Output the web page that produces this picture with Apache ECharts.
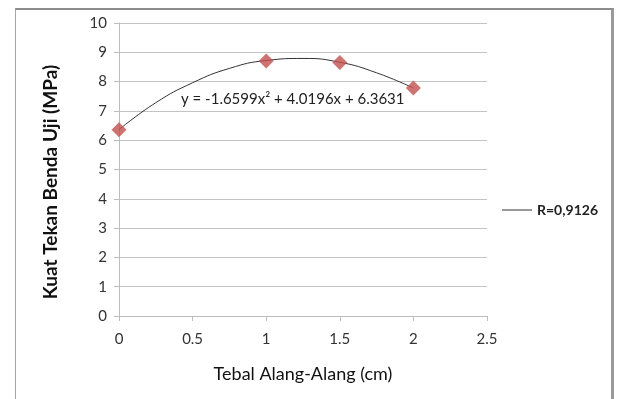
<!DOCTYPE html>
<html>
<head>
<meta charset="utf-8">
<script src="https://cdn.jsdelivr.net/npm/echarts@6/dist/echarts.min.js"></script>
<style>
  html, body { margin: 0; padding: 0; background: #fff; }
  #frame { position: absolute; left: 15px; top: 8px; width: 595px; height: 400px;
           border-top: 2px solid #8c8c8c; border-left: 1px solid #a6a6a6; border-right: 3px solid #9a9a9a; }
  #chart { position: absolute; left: 0; top: 0; width: 620px; height: 399px; }
</style>
</head>
<body>
<div id="frame"></div>
<div id="chart"></div>
<script>
// titik data uji
var tebal = [0, 1, 1.5, 2]
var kuatTekan = [6.36, 8.7, 8.65, 7.78]

// garis trend
var trendX = [0, 0.25, 0.5, 0.75, 1, 1.25, 1.5, 1.75, 2]
var trendY = [6.36, 7.28, 7.96, 8.45, 8.72, 8.79, 8.66, 8.3, 7.78]

var persamaan = 'y = -1.6599x² + 4.0196x + 6.3631'
var namaR = 'R=0,9126'

var pts = [], trend = []
for (let i in tebal) pts.push([tebal[i], kuatTekan[i]])
for (let i in trendX) trend.push([trendX[i], trendY[i]])

var chart = echarts.init(document.getElementById('chart'))
chart.setOption({
  animation: false,
  textStyle: { fontFamily: 'Lato' },
  grid: { left: 119, right: 133, top: 23, bottom: 83 },
  legend: {
    left: 497, top: 198,
    data: [{ name: namaR }],
    icon: 'rect', itemWidth: 30, itemHeight: 1, itemGap: 6,
    textStyle: { fontWeight: 'bold', fontSize: 14, color: '#222' }
  },
  xAxis: {
    type: 'value', min: 0, max: 2.5, interval: 0.5,
    name: 'Tebal Alang-Alang (cm)', nameLocation: 'middle', nameGap: 49,
    nameTextStyle: { fontSize: 18, color: '#111' },
    axisLine: { lineStyle: { color: '#bdbdbd' } },
    axisTick: { show: true, length: 5, lineStyle: { color: '#bdbdbd' } },
    axisLabel: { fontSize: 15, color: '#333', margin: 16 },
    splitLine: { show: false }
  },
  yAxis: {
    type: 'value', min: 0, max: 10, interval: 1,
    name: 'Kuat Tekan Benda Uji (MPa)', nameLocation: 'middle', nameGap: 59,
    nameTextStyle: { fontSize: 19, fontWeight: 'bold', color: '#111', padding: [0, 25, 0, 0] },
    axisLine: { show: true, lineStyle: { color: '#bdbdbd' } },
    axisTick: { show: true, length: 5, lineStyle: { color: '#bdbdbd' } },
    axisLabel: { fontSize: 15, color: '#333', margin: 12 },
    splitLine: { lineStyle: { color: '#c4c4c4' } }
  },
  graphic: [{
    type: 'text', left: 181, top: 92,
    style: { text: persamaan, fontSize: 15, fontFamily: 'Lato', fill: '#222' }
  }],
  series: [{
    name: namaR, type: 'line', data: trend, smooth: true, showSymbol: false,
    lineStyle: { color: '#333', width: 1 }, itemStyle: { color: '#333' }, z: 2
  }, {
    name: 'data', type: 'scatter', data: pts, symbol: 'diamond', symbolSize: 15,
    itemStyle: { color: '#c0504d' }, z: 3
  }]
})
</script>
</body>
</html>
